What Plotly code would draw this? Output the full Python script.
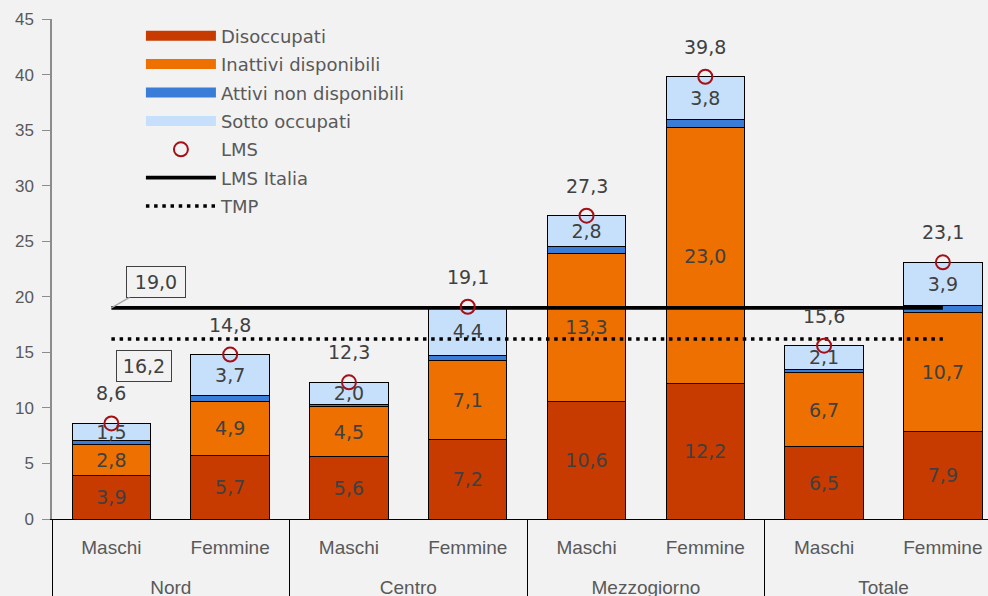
import plotly.graph_objects as go

# ---- data ----
aree = ["Nord", "Nord", "Centro", "Centro", "Mezzogiorno", "Mezzogiorno", "Totale", "Totale"]
sessi = ["Maschi", "Femmine", "Maschi", "Femmine", "Maschi", "Femmine", "Maschi", "Femmine"]
disoccupati = [3.9, 5.7, 5.6, 7.2, 10.6, 12.2, 6.5, 7.9]
inattivi_disponibili = [2.8, 4.9, 4.5, 7.1, 13.3, 23.0, 6.7, 10.7]
attivi_non_disponibili = [0.4, 0.5, 0.2, 0.4, 0.6, 0.8, 0.3, 0.6]
sotto_occupati = [1.5, 3.7, 2.0, 4.4, 2.8, 3.8, 2.1, 3.9]
lms = [8.6, 14.8, 12.3, 19.1, 27.3, 39.8, 15.6, 23.1]
lms_italia = 19.0
tmp = 16.2
y_ticks = [0, 5, 10, 15, 20, 25, 30, 35, 40, 45]

# ---- styles ----
BG = "#f2f2f2"
TXT = "#595959"
VAL = "#404040"
FONT = "DejaVu Sans, sans-serif"
AXF = "Liberation Sans, Arial, sans-serif"
col_dis = "#C73A00"
col_ina = "#EE7000"
col_att = "#3A7DD9"
col_sot = "#C6E0FB"
col_lms = "#A50F15"

def fmt(v):
    return f"{v:.1f}".replace(".", ",")

# display labels for the two-level category axis
sub_lbl = [f"<span style='font-size:19px'>{s}</span>" for s in sessi]
grp_lbl = [f"<br><br><span style='font-size:19px'>{a}</span>" for a in aree]
x = [grp_lbl, sub_lbl]

fig = go.Figure()

series = [
    ("Disoccupati", disoccupati, col_dis, True),
    ("Inattivi disponibili", inattivi_disponibili, col_ina, True),
    ("Attivi non disponibili", attivi_non_disponibili, col_att, False),
    ("Sotto occupati", sotto_occupati, col_sot, True),
]
for name, vals, col, lab in series:
    fig.add_trace(go.Bar(
        x=x, y=vals, name=name, showlegend=False,
        marker=dict(color=col, line=dict(color="#000000", width=1)),
        text=[fmt(v) for v in vals] if lab else None,
        textposition="inside" if lab else "none",
        insidetextanchor="middle",
        constraintext="none",
        textfont=dict(size=19, color=VAL, family=FONT),
        hoverinfo="skip",
    ))

# legend-only entries for the bar series (wide rectangles)
for rank, (name, vals, col, lab) in enumerate(series, start=1):
    fig.add_trace(go.Scatter(
        x=[[grp_lbl[0]], [sub_lbl[0]]], y=[None], mode="lines", name=name,
        legendgroup=name, legendrank=rank,
        line=dict(color=col, width=12),
    ))

fig.add_trace(go.Scatter(
    x=x, y=[lms_italia] * len(aree), mode="lines", name="LMS Italia",
    legendgroup="LMS Italia", legendrank=6,
    line=dict(color="#000000", width=3.8),
))
fig.add_trace(go.Scatter(
    x=x, y=[tmp] * len(aree), mode="lines", name="TMP",
    legendgroup="TMP", legendrank=7,
    line=dict(color="#000000", width=3.5, dash="3.5px,4.7px"),
))
fig.add_trace(go.Scatter(
    x=x, y=lms, mode="markers", name="LMS",
    legendgroup="LMS", legendrank=5,
    marker=dict(symbol="circle-open", size=14, color=col_lms, line=dict(width=2, color=col_lms)),
))

annotations = []
for i, v in enumerate(lms):
    annotations.append(dict(
        x=i, y=v, xref="x", yref="y", text=fmt(v), showarrow=False,
        yshift=30, font=dict(size=19, color=VAL, family=FONT),
    ))
annotations.append(dict(
    x=0, y=lms_italia, xref="x", yref="y", text=fmt(lms_italia),
    showarrow=True, arrowhead=0, arrowcolor="#a6a6a6", arrowwidth=1.2,
    ax=45, ay=-26, bordercolor="#404040", borderwidth=1, borderpad=4,
    bgcolor=BG, width=50, height=22,
    font=dict(size=19, color=VAL, family=FONT),
))
annotations.append(dict(
    x=0, y=tmp, xref="x", yref="y", text=fmt(tmp),
    showarrow=False, xshift=33, yshift=-27,
    bordercolor="#404040", borderwidth=1, borderpad=4,
    bgcolor=BG, width=46, height=22,
    font=dict(size=19, color=VAL, family=FONT),
))

fig.update_layout(
    width=988, height=596,
    margin=dict(l=52, r=0, t=19, b=77, autoexpand=False),
    paper_bgcolor=BG, plot_bgcolor=BG,
    barmode="stack", bargap=0.34,
    font=dict(family=FONT, color=TXT, size=16),
    showlegend=True,
    legend=dict(
        x=0.095, y=1.003, xanchor="left", yanchor="top",
        bgcolor="rgba(0,0,0,0)", itemwidth=70,
        traceorder="grouped", tracegroupgap=2,
        font=dict(size=18, color=TXT, family=FONT),
        itemclick=False,
    ),
    annotations=annotations,
    xaxis=dict(
        type="multicategory", automargin=False,
        range=[-0.5, 7.38],
        showline=True, linecolor="#000000", linewidth=1.2,
        showdividers=True, dividercolor="#000000", dividerwidth=1,
        ticks="", ticklabelstandoff=18,
        tickfont=dict(size=13.5, color=TXT, family=AXF),
        showgrid=False, zeroline=False,
    ),
    yaxis=dict(
        automargin=False,
        range=[0, 45], tickvals=y_ticks, ticktext=[str(t) for t in y_ticks],
        showline=True, linecolor="#8c8c8c", linewidth=1.5,
        ticks="outside", ticklen=8, tickcolor="#8c8c8c",
        ticklabelstandoff=5,
        tickfont=dict(size=17, color=TXT, family=AXF),
        showgrid=False, zeroline=False,
    ),
)

fig.write_html(
    "out.html",
    config={"displayModeBar": False},
    post_script="document.body.style.margin='0';document.body.style.overflow='hidden';",
)
